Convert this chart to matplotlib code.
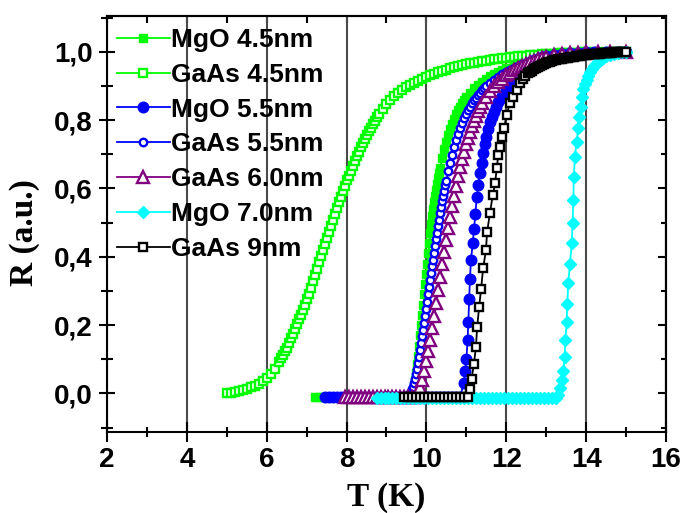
import matplotlib
matplotlib.use("Agg")
import matplotlib.pyplot as plt
from matplotlib.ticker import MultipleLocator, FixedLocator, FixedFormatter, NullFormatter
from matplotlib.font_manager import FontProperties

# ---------------- data ----------------
labels = ["MgO 4.5nm", "GaAs 4.5nm", "MgO 5.5nm", "GaAs 5.5nm",
          "GaAs 6.0nm", "MgO 7.0nm", "GaAs 9nm"]

T_mgo45 = [7.2, 7.3, 7.4, 7.5, 7.6, 7.7, 7.8, 7.9, 8.0, 8.1, 8.2, 8.3, 8.4, 8.5, 8.6,
           8.7, 8.8, 8.9, 9.0, 9.1, 9.2, 9.3, 9.4, 9.5, 9.6,
           9.65, 9.7, 9.725, 9.75, 9.775, 9.8, 9.825, 9.85, 9.875, 9.9,
           9.925, 9.95, 9.975, 10.0, 10.025, 10.05, 10.075, 10.1, 10.125, 10.15,
           10.175, 10.2, 10.225, 10.25, 10.275, 10.3, 10.325, 10.35, 10.4, 10.45,
           10.5, 10.55, 10.6, 10.65, 10.7, 10.75, 10.8, 10.85, 10.9, 10.95,
           11.0, 11.1, 11.2, 11.3, 11.4, 11.5, 11.6, 11.7, 11.8, 11.9,
           12.0, 12.2, 12.4, 12.6, 12.8, 13.0, 13.2, 13.4, 13.6, 13.8,
           14.0, 14.2]
R_mgo45 = [-0.01, -0.01, -0.01, -0.01, -0.01, -0.01, -0.01, -0.01, -0.01, -0.01,
           -0.01, -0.01, -0.01, -0.01, -0.01, -0.01, -0.01, -0.01, -0.01, -0.01,
           -0.01, -0.01, -0.01, -0.01, -0.01,
           0.0, 0.02, 0.04, 0.06, 0.085, 0.11, 0.14, 0.17, 0.20, 0.23,
           0.26, 0.29, 0.32, 0.35, 0.38, 0.41, 0.44, 0.47, 0.495, 0.52,
           0.54, 0.56, 0.578, 0.595, 0.613, 0.63, 0.645, 0.66, 0.69, 0.715,
           0.737, 0.757, 0.775, 0.79, 0.804, 0.817, 0.829, 0.84, 0.85, 0.859,
           0.867, 0.881, 0.893, 0.903, 0.912, 0.92, 0.928, 0.935, 0.941, 0.947,
           0.952, 0.962, 0.970, 0.977, 0.983, 0.987, 0.991, 0.994, 0.996, 0.998,
           0.999, 1.0]

T_gaas45 = [5.0, 5.1, 5.2, 5.3, 5.4, 5.5, 5.6, 5.7, 5.8, 5.9,
            6.0, 6.1, 6.2, 6.3, 6.35, 6.4, 6.45, 6.5, 6.55, 6.6,
            6.65, 6.7, 6.75, 6.8, 6.85, 6.9, 6.95, 7.0, 7.05, 7.1,
            7.15, 7.2, 7.25, 7.3, 7.35, 7.4, 7.45, 7.5, 7.55, 7.6,
            7.65, 7.7, 7.75, 7.8, 7.85, 7.9, 7.95, 8.0, 8.05, 8.1,
            8.15, 8.2, 8.25, 8.3, 8.35, 8.4, 8.45, 8.5, 8.55, 8.6,
            8.65, 8.7, 8.75, 8.8, 8.9, 9.0, 9.1, 9.2, 9.3, 9.4,
            9.5, 9.6, 9.7, 9.8, 9.9, 10.0, 10.1, 10.2, 10.3, 10.4,
            10.5, 10.6, 10.7, 10.8, 10.9, 11.0, 11.1, 11.2, 11.3, 11.4,
            11.5, 11.6, 11.7, 11.8, 11.9, 12.0, 12.1, 12.2, 12.3, 12.4,
            12.5, 12.6, 12.7, 12.8, 12.9, 13.0, 13.1, 13.2, 13.3, 13.4,
            13.5, 13.6, 13.7, 13.8, 13.9, 14.0, 14.2, 14.4, 14.6, 14.8,
            15.0]
R_gaas45 = [0.000, 0.002, 0.004, 0.006, 0.009, 0.013, 0.018, 0.023, 0.029, 0.036,
            0.045, 0.058, 0.072, 0.092, 0.103, 0.113, 0.123, 0.133, 0.147, 0.161,
            0.175, 0.189, 0.203, 0.217, 0.231, 0.245, 0.260, 0.275, 0.292, 0.310,
            0.328, 0.346, 0.365, 0.384, 0.402, 0.420, 0.438, 0.455, 0.473, 0.490,
            0.508, 0.525, 0.542, 0.559, 0.576, 0.592, 0.608, 0.624, 0.638, 0.652,
            0.666, 0.680, 0.694, 0.707, 0.720, 0.732, 0.744, 0.756, 0.767, 0.778,
            0.789, 0.799, 0.808, 0.817, 0.833, 0.848, 0.860, 0.872, 0.881, 0.889,
            0.896, 0.903, 0.910, 0.916, 0.922, 0.927, 0.932, 0.936, 0.940, 0.944,
            0.948, 0.952, 0.955, 0.958, 0.961, 0.963, 0.966, 0.968, 0.970, 0.972,
            0.974, 0.976, 0.978, 0.980, 0.981, 0.983, 0.984, 0.985, 0.987, 0.988,
            0.989, 0.990, 0.991, 0.992, 0.993, 0.994, 0.994, 0.995, 0.996, 0.996,
            0.997, 0.997, 0.998, 0.998, 0.999, 0.999, 0.999, 1.0, 1.0, 1.0,
            1.0]

T_mgo55 = [7.45, 7.55, 7.65, 7.75, 7.85, 7.95, 8.05, 8.15, 8.25, 8.35,
           8.45, 8.55, 8.65, 8.75, 8.85, 8.95, 9.05, 9.15, 9.25, 9.35,
           9.45, 9.55, 9.65, 9.75, 9.85, 9.95, 10.05, 10.15, 10.25, 10.35,
           10.45, 10.55, 10.65, 10.75, 10.85,
           10.93, 10.97, 11.0, 11.03, 11.05, 11.07, 11.09, 11.115, 11.16, 11.19,
           11.225, 11.26, 11.3, 11.34, 11.38, 11.42, 11.46, 11.5, 11.55, 11.6,
           11.65, 11.7, 11.75, 11.8, 11.85, 11.9, 12.0, 12.1, 12.2, 12.3,
           12.4, 12.5, 12.6, 12.7, 12.8, 12.9, 13.0, 13.2, 13.4, 13.6,
           13.8, 14.0, 14.2, 14.5, 14.8, 15.0]
R_mgo55 = [-0.01, -0.01, -0.01, -0.01, -0.01, -0.01, -0.01, -0.01, -0.01, -0.01,
           -0.01, -0.01, -0.01, -0.01, -0.01, -0.01, -0.01, -0.01, -0.01, -0.01,
           -0.01, -0.01, -0.01, -0.01, -0.01, -0.01, -0.01, -0.01, -0.01, -0.01,
           -0.01, -0.01, -0.01, -0.01, -0.01,
           0.03, 0.065, 0.10, 0.155, 0.21, 0.275, 0.335, 0.39, 0.44, 0.48,
           0.525, 0.575, 0.61, 0.645, 0.675, 0.705, 0.73, 0.75, 0.775, 0.795,
           0.81, 0.825, 0.84, 0.852, 0.862, 0.872, 0.89, 0.905, 0.92, 0.935,
           0.948, 0.96, 0.968, 0.975, 0.98, 0.985, 0.988, 0.992, 0.995, 0.997,
           0.998, 0.999, 1.0, 1.0, 1.0, 1.0]

T_gaas55 = [9.4, 9.5, 9.55, 9.6, 9.625, 9.65, 9.675, 9.7, 9.725, 9.75,
            9.775, 9.8, 9.825, 9.85, 9.875, 9.9, 9.925, 9.95, 9.975, 10.0,
            10.025, 10.05, 10.075, 10.1, 10.125, 10.15, 10.175, 10.2, 10.225, 10.25,
            10.275, 10.3, 10.325, 10.35, 10.375, 10.4, 10.425, 10.45, 10.475, 10.5,
            10.55, 10.6, 10.65, 10.7, 10.75, 10.8, 10.85, 10.9, 10.95, 11.0,
            11.05, 11.1, 11.15, 11.2, 11.25, 11.3, 11.35, 11.4, 11.45, 11.5,
            11.6, 11.7, 11.8, 11.9, 12.0, 12.1, 12.2, 12.3, 12.4, 12.5,
            12.6, 12.7, 12.8, 12.9, 13.0, 13.2, 13.4, 13.6, 13.8, 14.0,
            14.3, 14.6, 15.0]
R_gaas55 = [-0.01, -0.01, -0.005, 0.0, 0.005, 0.012, 0.02, 0.03, 0.042, 0.056,
            0.072, 0.09, 0.108, 0.127, 0.147, 0.167, 0.187, 0.207, 0.228, 0.248,
            0.269, 0.29, 0.311, 0.332, 0.352, 0.372, 0.392, 0.412, 0.432, 0.452,
            0.471, 0.49, 0.509, 0.527, 0.545, 0.562, 0.578, 0.594, 0.609, 0.623,
            0.65, 0.676, 0.699, 0.721, 0.742, 0.76, 0.777, 0.792, 0.806, 0.818,
            0.829, 0.84, 0.849, 0.858, 0.866, 0.874, 0.881, 0.888, 0.894, 0.9,
            0.91, 0.919, 0.927, 0.934, 0.941, 0.947, 0.953, 0.959, 0.964, 0.968,
            0.972, 0.976, 0.979, 0.982, 0.985, 0.989, 0.993, 0.996, 0.998, 0.999,
            1.0, 1.0, 1.0]

T_gaas60 = [7.95, 8.05, 8.15, 8.25, 8.35, 8.45, 8.55, 8.65, 8.75, 8.85,
            8.95, 9.05, 9.15, 9.25, 9.35, 9.45, 9.55, 9.65, 9.75,
            9.8, 9.85, 9.9, 9.95, 10.0, 10.05, 10.1, 10.15, 10.2, 10.25,
            10.3, 10.35, 10.4, 10.45, 10.5, 10.55, 10.6, 10.65, 10.7, 10.75,
            10.8, 10.85, 10.9, 10.95, 11.0, 11.05, 11.1, 11.15, 11.2, 11.25,
            11.3, 11.35, 11.4, 11.5, 11.6, 11.7, 11.8, 11.9, 12.0, 12.1,
            12.2, 12.3, 12.4, 12.5, 12.6, 12.7, 12.8, 12.9, 13.0, 13.2,
            13.4, 13.6, 13.8, 14.0, 14.3, 14.6, 15.0]
R_gaas60 = [-0.01, -0.01, -0.01, -0.01, -0.01, -0.01, -0.01, -0.01, -0.01, -0.01,
            -0.01, -0.01, -0.01, -0.01, -0.01, -0.01, -0.01, -0.01, -0.01,
            0.0, 0.018, 0.04, 0.066, 0.095, 0.125, 0.157, 0.192, 0.228, 0.265,
            0.303, 0.341, 0.378, 0.414, 0.449, 0.483, 0.516, 0.548, 0.579, 0.608,
            0.636, 0.662, 0.686, 0.708, 0.729, 0.748, 0.766, 0.783, 0.799, 0.813,
            0.826, 0.838, 0.849, 0.868, 0.885, 0.899, 0.911, 0.922, 0.931, 0.939,
            0.946, 0.953, 0.959, 0.965, 0.97, 0.974, 0.978, 0.982, 0.985, 0.99,
            0.994, 0.997, 0.998, 0.999, 1.0, 1.0, 1.0]

T_mgo70 = [8.75, 8.85, 8.95, 9.05, 9.15, 9.25, 9.35, 9.45, 9.55, 9.65,
           9.75, 9.85, 9.95, 10.05, 10.15, 10.25, 10.35, 10.45, 10.55, 10.65,
           10.75, 10.85, 10.95, 11.05, 11.15, 11.25, 11.35, 11.45, 11.55, 11.65,
           11.75, 11.85, 11.95, 12.05, 12.15, 12.25, 12.35, 12.45, 12.55, 12.65,
           12.75, 12.85, 12.95, 13.05, 13.15, 13.25,
           13.3, 13.35, 13.39, 13.43, 13.46, 13.48, 13.51, 13.53, 13.55, 13.595,
           13.64, 13.66, 13.68, 13.69, 13.72, 13.76, 13.8, 13.83, 13.86, 13.89,
           13.93, 13.97, 14.01, 14.05, 14.1, 14.15, 14.2, 14.25, 14.3, 14.35,
           14.4, 14.45, 14.5, 14.6, 14.7, 14.8, 14.9, 15.0]
R_mgo70 = [-0.012, -0.012, -0.012, -0.012, -0.012, -0.012, -0.012, -0.012, -0.012, -0.012,
           -0.012, -0.012, -0.012, -0.012, -0.012, -0.012, -0.012, -0.012, -0.012, -0.012,
           -0.012, -0.012, -0.012, -0.012, -0.012, -0.012, -0.012, -0.012, -0.012, -0.012,
           -0.012, -0.012, -0.012, -0.012, -0.012, -0.012, -0.012, -0.012, -0.012, -0.012,
           -0.012, -0.012, -0.012, -0.012, -0.012, -0.012,
           -0.005, 0.015, 0.038, 0.067, 0.106, 0.155, 0.209, 0.263, 0.322, 0.38,
           0.439, 0.498, 0.566, 0.634, 0.693, 0.737, 0.776, 0.81, 0.84, 0.869,
           0.89, 0.905, 0.918, 0.93, 0.94, 0.95, 0.958, 0.965, 0.971, 0.976,
           0.98, 0.984, 0.987, 0.991, 0.994, 0.997, 0.999, 1.0]

T_gaas9 = [9.45, 9.55, 9.65, 9.75, 9.85, 9.95, 10.05, 10.15, 10.25, 10.35,
           10.45, 10.55, 10.65, 10.75, 10.85, 10.95, 11.05,
           11.09, 11.13, 11.19, 11.24, 11.27, 11.32, 11.37, 11.42, 11.49, 11.52,
           11.59, 11.66, 11.72, 11.76, 11.8, 11.84, 11.89, 11.94, 12.01, 12.09,
           12.18, 12.26, 12.34, 12.41, 12.47, 12.55, 12.6, 12.65, 12.7, 12.75,
           12.8, 12.85, 12.9, 12.95, 13.0, 13.05, 13.1, 13.15, 13.2, 13.25,
           13.3, 13.35, 13.4, 13.45, 13.5, 13.55, 13.6, 13.65, 13.7, 13.75,
           13.8, 13.85, 13.9, 13.95, 14.0, 14.05, 14.1, 14.15, 14.2, 14.25,
           14.3, 14.35, 14.4, 14.45, 14.5, 14.55, 14.6, 14.65, 14.7, 14.75,
           14.8, 14.85, 14.9, 14.95, 15.0]
R_gaas9 = [-0.01, -0.01, -0.01, -0.01, -0.01, -0.01, -0.01, -0.01, -0.01, -0.01,
           -0.01, -0.01, -0.01, -0.01, -0.01, -0.01, -0.01,
           0.014, 0.043, 0.087, 0.136, 0.194, 0.253, 0.307, 0.366, 0.419, 0.473,
           0.527, 0.58, 0.615, 0.659, 0.698, 0.722, 0.75, 0.776, 0.815, 0.85,
           0.869, 0.889, 0.908, 0.92, 0.928, 0.937, 0.94, 0.945, 0.95, 0.953,
           0.956, 0.959, 0.962, 0.965, 0.967, 0.969, 0.971, 0.973, 0.975, 0.977,
           0.978, 0.979, 0.98, 0.981, 0.982, 0.983, 0.984, 0.985, 0.986, 0.987,
           0.988, 0.989, 0.99, 0.991, 0.992, 0.992, 0.993, 0.993, 0.994, 0.994,
           0.995, 0.995, 0.996, 0.996, 0.997, 0.997, 0.998, 0.998, 0.999, 0.999,
           0.999, 1.0, 1.0, 1.0, 1.0]

x_ticks = [2, 4, 6, 8, 10, 12, 14, 16]
x_ticklabels = ["2", "4", "6", "8", "10", "12", "14", "16"]
y_ticks = [0.0, 0.2, 0.4, 0.6, 0.8, 1.0]
y_ticklabels = ["0,0", "0,2", "0,4", "0,6", "0,8", "1,0"]

# ---------------- styling ----------------
styles = [
    dict(color="#00FF00", marker="s", ms=6.3, mfc="#00FF00", mew=1.0),
    dict(color="#00FF00", marker="s", ms=5.8, mfc="white", mew=1.7),
    dict(color="#0000FF", marker="o", ms=7.6, mfc="#0000FF", mew=1.0),
    dict(color="#0000FF", marker="o", ms=5.4, mfc="white", mew=1.7),
    dict(color="#800080", marker="^", ms=8.2, mfc="white", mew=1.7),
    dict(color="#00FFFF", marker="D", ms=6.6, mfc="#00FFFF", mew=1.0),
    dict(color="black", marker="s", ms=6.0, mfc="white", mew=1.7),
]
data = [(T_mgo45, R_mgo45), (T_gaas45, R_gaas45), (T_mgo55, R_mgo55),
        (T_gaas55, R_gaas55), (T_gaas60, R_gaas60), (T_mgo70, R_mgo70),
        (T_gaas9, R_gaas9)]

fig = plt.figure(figsize=(6.86, 5.13), dpi=100)
W, H = 686, 513
ax = fig.add_axes([107 / W, (H - 432) / H, 559 / W, 416 / H])

for (T, R), lab, st in zip(data, labels, styles):
    ax.plot(T, R, linestyle="-", lw=1.3, color=st["color"], marker=st["marker"],
            ms=st["ms"], mfc=st["mfc"], mec=st["color"], mew=st["mew"], label=lab)

ax.set_xlim(2, 16)
ax.set_ylim(-0.113, 1.105)

tick_font = FontProperties(family="Liberation Sans", weight="bold", size=20)
label_font = FontProperties(family="Liberation Serif", weight="bold", size=24)

ax.xaxis.set_major_locator(FixedLocator(x_ticks))
ax.xaxis.set_major_formatter(FixedFormatter(x_ticklabels))
ax.xaxis.set_minor_locator(MultipleLocator(1))
ax.yaxis.set_major_locator(FixedLocator(y_ticks))
ax.yaxis.set_major_formatter(FixedFormatter(y_ticklabels))
ax.yaxis.set_minor_locator(MultipleLocator(0.1))

ax.tick_params(axis="x", which="major", direction="inout", length=14, width=1.5,
               pad=3.5, top=False)
ax.tick_params(axis="x", which="minor", direction="inout", length=7, width=1.5, top=False)
ax.tick_params(axis="y", which="major", direction="inout", length=11, width=1.5,
               pad=5, right=False)
ax.tick_params(axis="y", which="minor", direction="inout", length=8, width=1.5, right=False)
for t in ax.get_xticklabels() + ax.get_yticklabels():
    t.set_fontproperties(tick_font)

secx = ax.secondary_xaxis("top")
secx.xaxis.set_major_locator(FixedLocator(x_ticks))
secx.xaxis.set_minor_locator(MultipleLocator(1))
secx.xaxis.set_major_formatter(NullFormatter())
secx.tick_params(which="major", direction="in", length=5, width=1.5)
secx.tick_params(which="minor", direction="in", length=5, width=1.5)
secx.spines["top"].set_linewidth(1.5)

secy = ax.secondary_yaxis("right")
secy.yaxis.set_major_locator(FixedLocator(y_ticks))
secy.yaxis.set_minor_locator(MultipleLocator(0.1))
secy.yaxis.set_major_formatter(NullFormatter())
secy.tick_params(which="major", direction="in", length=6, width=1.5)
secy.tick_params(which="minor", direction="in", length=3.5, width=1.5)
secy.spines["right"].set_linewidth(1.5)

for s in ax.spines.values():
    s.set_linewidth(1.5)

ax.grid(axis="x", which="major", color="#4a4a4a", lw=1.5)

ax.set_xlabel("T (K)", fontproperties=label_font)
ax.set_ylabel("R (a.u.)", fontproperties=label_font)
ax.xaxis.set_label_coords(0.5, (432 - 482) / 416)
ax.yaxis.set_label_coords((40 - 107) / 559, (432 - 233) / 416)

leg = ax.legend(loc="upper left", bbox_to_anchor=((117 - 107) / 559, (432 - 28) / 416),
                frameon=False, borderaxespad=0, borderpad=0,
                prop=FontProperties(family="Liberation Sans", weight="bold", size=19),
                handlelength=2.0, handletextpad=0.05, labelspacing=0.41)

fig.savefig("out.png", dpi=100)
